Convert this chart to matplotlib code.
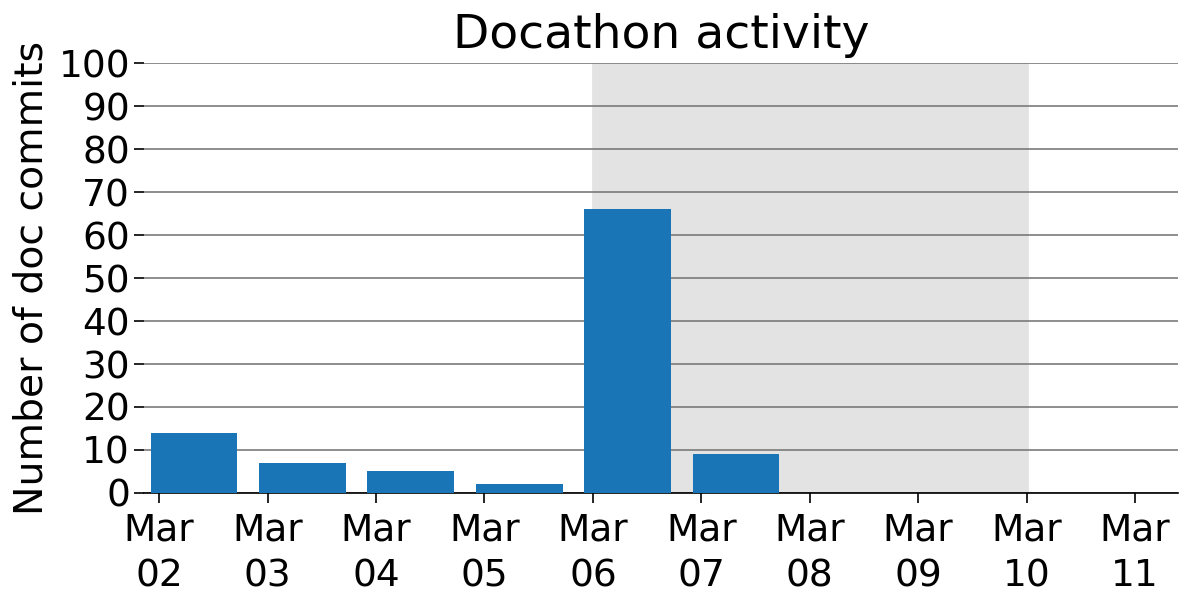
import numpy as np
import pandas as pd
import matplotlib
matplotlib.use("Agg")
import matplotlib.pyplot as plt
import matplotlib.dates as mdates

# Data
dates = pd.to_datetime(["2017-03-02", "2017-03-03", "2017-03-04", "2017-03-05",
                        "2017-03-06", "2017-03-07", "2017-03-08", "2017-03-09",
                        "2017-03-10", "2017-03-11"])
commits = [14, 7, 5, 2, 66, 9, 0, 0, 0, 0]
docathon_start = pd.Timestamp("2017-03-06")
docathon_end = pd.Timestamp("2017-03-10")

plt.rcParams.update({"font.size": 13.5})

fig, ax = plt.subplots(figsize=(6, 3.02), dpi=200)

# shaded docathon week
ax.axvspan(docathon_start, docathon_end, color="#e3e3e3", zorder=0)

# bars are slightly offset from the day ticks
x = mdates.date2num(dates) - 0.08
ax.bar(x, commits, width=0.8, align="edge", color="#1a75b6", zorder=3)

ax.set_ylim(0, 100)
ax.set_yticks(np.arange(0, 101, 10))
ax.set_xlim(mdates.date2num(dates[0]) - 0.14, mdates.date2num(dates[-1]) + 0.4)
ax.xaxis.set_major_locator(mdates.DayLocator())
ax.xaxis.set_major_formatter(mdates.DateFormatter("%b\n%d"))
for lbl in ax.get_xticklabels():
    lbl.set_linespacing(1.35)

ax.grid(axis="y", color="#7a7a7a", linewidth=0.6, zorder=1)
ax.set_axisbelow(True)
for side in ["left", "right", "top"]:
    ax.spines[side].set_visible(False)
ax.spines["bottom"].set_linewidth(0.6)
ax.tick_params(axis="both", width=0.6, length=3.5, pad=1.5)
ax.tick_params(axis="x", pad=3.5)

ax.set_ylabel("Number of doc commits", fontsize=14.2, labelpad=3)
ax.set_title("Docathon activity", fontsize=17, pad=5.5)

fig.subplots_adjust(left=0.12, right=0.982, top=0.895, bottom=0.184)
fig.savefig("out.png", dpi=200)
